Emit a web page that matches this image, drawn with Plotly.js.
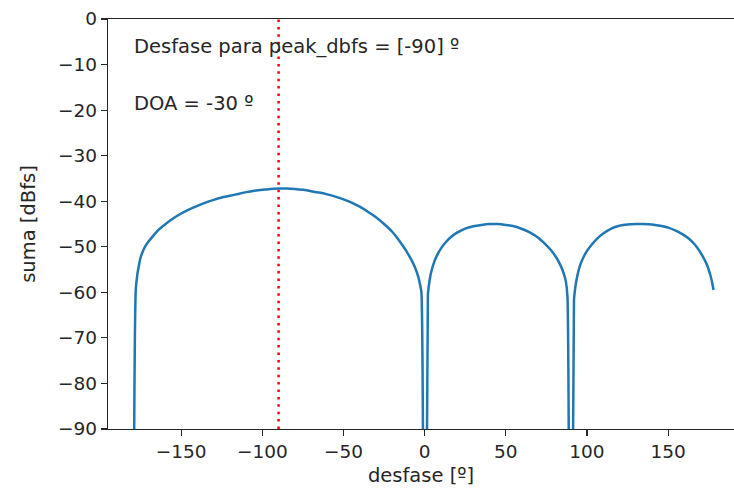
<!DOCTYPE html>
<html>
<head>
<meta charset="utf-8">
<script src="https://cdn.plot.ly/plotly-3.0.1.min.js"></script>
<style>html,body{margin:0;padding:0;overflow:hidden;background:#fff}</style>
</head>
<body>
<div id="chart" style="width:734px;height:490px"></div>
<script>
// desfase [º]
const desfase = [-180, -178, -177, -176, -175, -174, -172, -170, -167, -164, -160, -155, -150, -145, -140, -135, -130, -125, -120, -115, -110, -105, -100, -95, -90,
  -85, -80, -75, -70, -65, -60, -55, -50, -45, -40, -35, -30, -25, -20, -17, -14, -11, -8, -6, -4, -3, -2, 0,
  2, 3, 4, 6, 8, 10, 13, 16, 20, 25, 30, 35, 40, 45, 50, 55, 60, 65, 70, 74, 78, 81, 84, 86, 87, 88, 90,
  92, 93, 94, 96, 98, 100, 103, 106, 110, 115, 120, 125, 130, 135, 140, 145, 150, 155, 160, 164, 168, 171, 174, 176, 177, 178];
// suma [dBfs]
const suma = [-200, -59.5, -56.0, -54.0, -52.3, -51.3, -49.8, -48.8, -47.5, -46.3, -45.1, -43.8, -42.7, -41.8, -41.0, -40.3, -39.7, -39.2, -38.8, -38.4, -38.0, -37.7, -37.5, -37.3, -37.2,
  -37.2, -37.3, -37.5, -37.8, -38.1, -38.5, -39.0, -39.6, -40.3, -41.2, -42.3, -43.5, -45.0, -46.7, -48.0, -49.5, -51.1, -53.0, -54.5, -56.5, -58.0, -60.0, -200,
  -60.5, -57.5, -55.6, -53.2, -51.6, -50.4, -49.0, -47.9, -46.9, -46.0, -45.5, -45.2, -45.0, -45.0, -45.2, -45.5, -46.1, -46.9, -48.0, -49.3, -50.8, -52.3, -54.3, -56.2, -57.6, -61.0, -200,
  -61.7, -58.5, -56.5, -53.8, -52.2, -50.9, -49.5, -48.3, -47.1, -46.0, -45.4, -45.1, -45.0, -45.0, -45.1, -45.4, -45.8, -46.5, -47.5, -48.6, -50.2, -51.9, -54.0, -56.2, -57.6, -59.5];
const peakDbfsDesfase = [-90];
const doa = -30;
const xTickVals = [-150, -100, -50, 0, 50, 100, 150];
const xTickText = ['\u2212150', '\u2212100', '\u221250', '0', '50', '100', '150'];
const yTickVals = [0, -10, -20, -30, -40, -50, -60, -70, -80, -90];
const yTickText = ['0', '\u221210', '\u221220', '\u221230', '\u221240', '\u221250', '\u221260', '\u221270', '\u221280', '\u221290'];

const tickFont = {family: 'DejaVu Sans', size: 18.5, color: '#262626'};
const textFont = {family: 'DejaVu Sans', size: 19.5, color: '#262626'};

const traces = [{
  x: desfase, y: suma, type: 'scatter', mode: 'lines',
  line: {color: '#1f77b4', width: 2.5, shape: 'spline', smoothing: 0.6}, hoverinfo: 'skip'
}];

const layout = {
  width: 734, height: 490,
  margin: {l: 108, r: 0, t: 19, b: 61},
  paper_bgcolor: '#fff', plot_bgcolor: '#fff',
  font: tickFont,
  showlegend: false,
  xaxis: {
    range: [-195.1, 190.6], showgrid: false, zeroline: false,
    showline: true, linecolor: '#262626', linewidth: 1.2, mirror: true,
    ticks: 'outside', ticklen: 6, tickwidth: 1.2, tickcolor: '#262626',
    tickvals: xTickVals, ticktext: xTickText, tickfont: tickFont,
    title: {text: 'desfase [º]', font: textFont, standoff: 7}
  },
  yaxis: {
    range: [-90, 0], showgrid: false, zeroline: false,
    showline: true, linecolor: '#262626', linewidth: 1.2, mirror: false,
    ticks: 'outside', ticklen: 6, tickwidth: 1.2, tickcolor: '#262626',
    tickvals: yTickVals, ticktext: yTickText, tickfont: tickFont,
    title: {text: 'suma [dBfs]', font: textFont, standoff: 17}
  },
  shapes: peakDbfsDesfase.map(p => ({
    type: 'line', xref: 'x', yref: 'paper', x0: p, x1: p, y0: 0, y1: 1,
    line: {color: '#ff0000', width: 2.5, dash: '2.5px,4.9px'}
  })),
  annotations: [
    {xref: 'paper', yref: 'paper', x: 0.038, y: 0.934, xanchor: 'left', yanchor: 'middle',
     text: 'Desfase para peak_dbfs = [' + peakDbfsDesfase.join(', ') + '] º', showarrow: false, font: textFont},
    {xref: 'paper', yref: 'paper', x: 0.038, y: 0.793, xanchor: 'left', yanchor: 'middle',
     text: 'DOA = ' + doa + ' º', showarrow: false, font: textFont}
  ]
};

Plotly.newPlot('chart', traces, layout, {staticPlot: true, displayModeBar: false});
</script>
</body>
</html>
